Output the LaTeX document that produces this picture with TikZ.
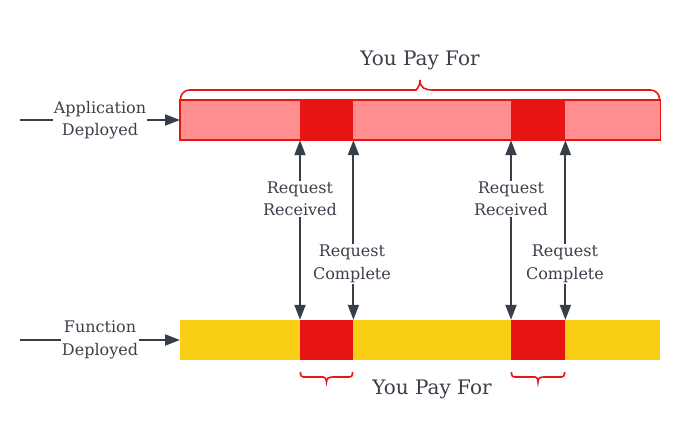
\documentclass[tikz,border=0pt]{standalone}
\usepackage{fontspec}
\setmainfont{DejaVu Serif}
\usetikzlibrary{arrows.meta}
\definecolor{pinkc}{HTML}{FF8F8F}
\definecolor{redc}{HTML}{E81515}
\definecolor{yelc}{HTML}{FACE14}
\definecolor{grayc}{HTML}{383E48}
\definecolor{txtc}{HTML}{3A3F4A}
\tikzset{
  lbl/.style={align=center, text=txtc, font=\fontsize{16}{22.5}\selectfont, inner sep=1pt},
  big/.style={text=txtc, font=\fontsize{20}{24}\selectfont, inner sep=0pt},
  conn/.style={draw=grayc, line width=2pt},
  arr/.style={conn, -{Triangle[length=15pt,width=11pt]}},
  blk/.style={fill=redc, minimum height=40pt, inner sep=0pt, anchor=west},
  brc/.style={draw=redc, line width=1.6pt},
}
\begin{document}
\begin{tikzpicture}[x=1pt,y=-1pt]
\useasboundingbox (0,0) rectangle (680,440);
% top bar
\node[fill=pinkc, minimum width=480pt, minimum height=40pt, inner sep=0pt, anchor=west] (topbar) at (180,120) {};
\node[blk, minimum width=53pt] (t1) at (300,120) {};
\node[blk, minimum width=54pt] (t2) at (511,120) {};
\draw[draw=redc, line width=1.5pt] (topbar.south west) rectangle (topbar.north east);
% bottom bar
\node[fill=yelc, minimum width=480pt, minimum height=40pt, inner sep=0pt, anchor=west] (botbar) at (180,340) {};
\node[blk, minimum width=53pt] (b1) at (300,340) {};
\node[blk, minimum width=54pt] (b2) at (511,340) {};
% left labels
\coordinate (sa) at (20,120);
\node[lbl] (app) at (100,120) {Application\\Deployed};
\draw[conn] (sa) -- (app.west |- sa);
\draw[arr] (app.east |- sa) -- (topbar.west);
\coordinate (sf) at (20,340);
\node[lbl] (fun) at (100,340) {Function\\Deployed};
\draw[conn] (sf) -- (fun.west |- sf);
\draw[arr] (fun.east |- sf) -- (botbar.west);
% request labels
\node[lbl] (rr1) at (300,199) {Request\\Received};
\node[lbl] (rc1) at (352,264) {Request\\Complete};
\node[lbl] (rr2) at (511,199) {Request\\Received};
\node[lbl] (rc2) at (565,264) {Request\\Complete};
\draw[arr] (rr1.north -| t1.south west) -- (t1.south west);
\draw[arr] (rr1.south -| b1.north west) -- (b1.north west);
\draw[arr] (rc1.north -| t1.south east) -- (t1.south east);
\draw[arr] (rc1.south -| b1.north east) -- (b1.north east);
\draw[arr] (rr2.north -| t2.south west) -- (t2.south west);
\draw[arr] (rr2.south -| b2.north west) -- (b2.north west);
\draw[arr] (rc2.north -| t2.south east) -- (t2.south east);
\draw[arr] (rc2.south -| b2.north east) -- (b2.north east);
% top brace
\draw[brc] (180.5,100) [rounded corners=9pt] |- (407,90) [sharp corners] .. controls (415,90) and (420,88) .. (420,80) .. controls (420,88) and (425,90) .. (433,90) [rounded corners=9pt] -| (659.5,100);
\node[big] (ypt) at (420,60) {You Pay For};
% bottom braces
\draw[brc] (300.5,372) [rounded corners=3pt] |- (320,377) [sharp corners] .. controls (324,377) and (326.5,378) .. (326.5,382) .. controls (326.5,378) and (329,377) .. (333,377) [rounded corners=3pt] -| (352.5,372);
\draw[brc] (511.5,372) [rounded corners=3pt] |- (532,377) [sharp corners] .. controls (536,377) and (538,378) .. (538,382) .. controls (538,378) and (540,377) .. (544,377) [rounded corners=3pt] -| (564.5,372);
\node[big] (ypb) at (432,389) {You Pay For};
\end{tikzpicture}
\end{document}
